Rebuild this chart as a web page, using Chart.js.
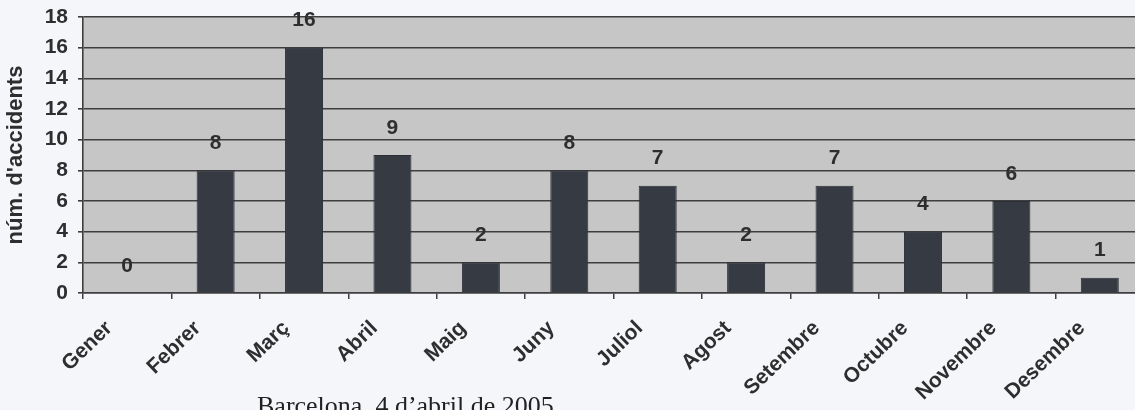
<!DOCTYPE html>
<html>
<head>
<meta charset="utf-8">
<script src="https://cdn.jsdelivr.net/npm/chart.js@4.4.1/dist/chart.umd.min.js"></script>
<style>
  html, body { margin: 0; padding: 0; background: #f5f6fa; overflow: hidden; }
  #wrap { position: relative; width: 1146px; height: 410px; }
  #peu {
    position: absolute; left: 257px; top: 393px;
    font-family: "Liberation Serif", "DejaVu Serif", serif;
    font-size: 26px; line-height: 26px; color: #222; white-space: nowrap;
  }
</style>
</head>
<body>
<div id="wrap">
  <canvas id="grafic"></canvas>
  <div id="peu">Barcelona, 4 d’abril de 2005</div>
</div>
<script>
// dades del gràfic
const mesos = ["Gener", "Febrer", "Març", "Abril", "Maig", "Juny", "Juliol", "Agost", "Setembre", "Octubre", "Novembre", "Desembre"];
const accidents = [0, 8, 16, 9, 2, 8, 7, 2, 7, 4, 6, 1];
const ticksY = [0, 2, 4, 6, 8, 10, 12, 14, 16, 18];

const textColor = "#2e2e2e";
const lineColor = "#3e3e3e";
const fontFam = "'Liberation Sans', Arial, sans-serif";

// fons gris de l'àrea del gràfic
const fonsArea = {
  id: "fonsArea",
  beforeDraw(chart) {
    const { ctx, chartArea: a } = chart;
    ctx.save();
    ctx.fillStyle = "#c6c6c6";
    ctx.fillRect(a.left, a.top, a.right - a.left, a.bottom - a.top);
    ctx.restore();
  }
};

// valors a sobre de cada barra
const etiquetes = {
  id: "etiquetes",
  afterDatasetsDraw(chart) {
    const ctx = chart.ctx;
    const meta = chart.getDatasetMeta(0);
    ctx.save();
    ctx.font = "bold 21px " + fontFam;
    ctx.fillStyle = textColor;
    ctx.textAlign = "center";
    ctx.textBaseline = "middle";
    meta.data.forEach((bar, i) => {
      ctx.fillText(accidents[i], bar.x, bar.y - 27);
    });
    ctx.restore();
  }
};

const ctx1 = document.getElementById("grafic").getContext("2d");
const grafic = new Chart(ctx1, {
  type: "bar",
  data: {
    labels: mesos,
    datasets: [{
      data: accidents,
      backgroundColor: "#363a43",
      borderColor: "#2c2f36",
      borderWidth: 1,
      barPercentage: 0.43,
      categoryPercentage: 1
    }]
  },
  options: {
    responsive: true,
    maintainAspectRatio: false,
    animation: false,
    layout: { padding: { top: 17, right: 2, left: 0, bottom: 0 } },
    plugins: {
      legend: { display: false },
      tooltip: { enabled: false }
    },
    scales: {
      x: {
        grid: {
          offset: true,
          drawOnChartArea: false,
          drawTicks: true,
          tickLength: 6,
          color: lineColor,
          lineWidth: 1.5
        },
        border: { display: true, color: lineColor, width: 1.5 },
        ticks: {
          color: textColor,
          font: { family: fontFam, size: 21, weight: "bold" },
          minRotation: 44,
          maxRotation: 44,
          padding: 17,
          labelOffset: -18,
          autoSkip: false
        },
        afterFit(s) { s.height = 117; }
      },
      y: {
        min: 0,
        max: 18,
        afterBuildTicks(s) { s.ticks = ticksY.map(v => ({ value: v })); },
        grid: { color: lineColor, lineWidth: 1.6, tickLength: 5 },
        border: { display: true, color: lineColor, width: 1.6 },
        ticks: {
          color: textColor,
          font: { family: fontFam, size: 21, weight: "bold" },
          padding: 10
        },
        title: {
          display: true,
          text: "núm. d'accidents",
          color: textColor,
          font: { family: fontFam, size: 22, weight: "bold" },
          padding: { top: 3, bottom: 0 }
        },
        afterFit(s) {
          s.width = 83;
          s.paddingTop = 0;
          s.paddingBottom = 0;
        }
      }
    }
  },
  plugins: [fonsArea, etiquetes]
});
</script>
</body>
</html>
